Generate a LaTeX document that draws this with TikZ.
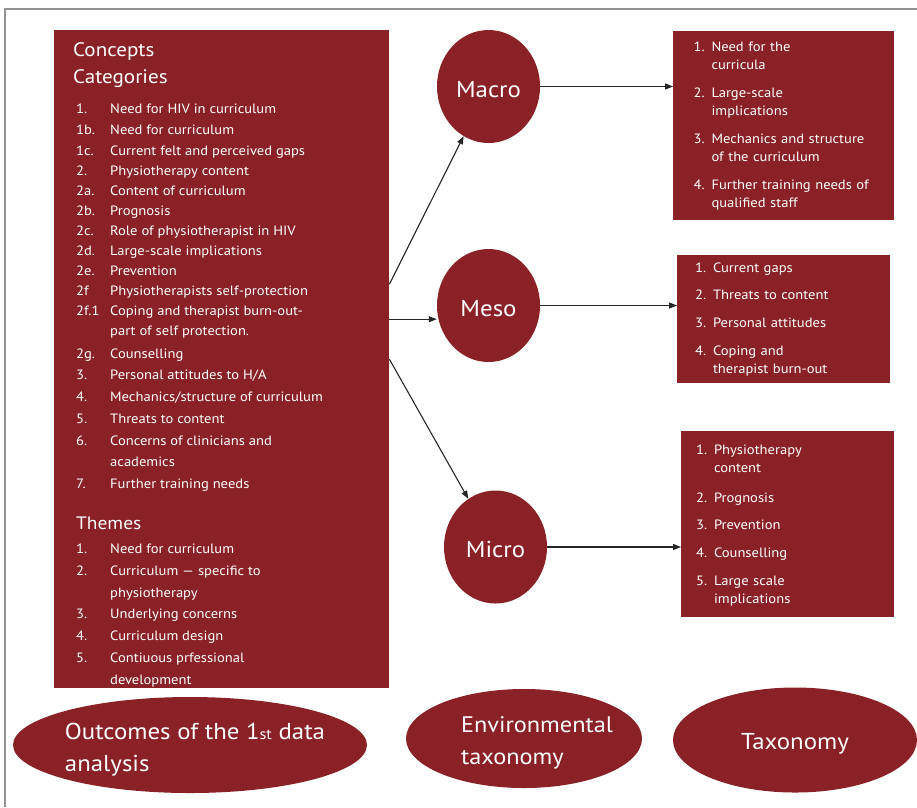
\documentclass[tikz,border=0pt]{standalone}
\usepackage{fontspec}
\setmainfont{PT Sans}[FakeStretch=1.08]
\usepackage{tikz}
\usetikzlibrary{arrows.meta, shapes.geometric, positioning}
\definecolor{wine}{RGB}{137,33,38}

\begin{document}
\begin{tikzpicture}[
    x=1pt, y=-1pt,
    font=\fontsize{13.5}{20}\selectfont,
    panel/.style={fill=wine, text=white, anchor=north west, inner sep=0pt},
    blob/.style={ellipse, fill=wine, text=white, inner sep=0pt, align=left},
    lvl/.style={blob, minimum width=103pt, minimum height=113pt, font=\fontsize{23}{23}\selectfont},
    item/.style={text=white, anchor=base west, inner sep=0pt},
    head/.style={item, font=\fontsize{19.5}{19.5}\selectfont},
    ar/.style={-{Triangle[length=8pt, width=6pt]}, line width=1.1pt, black!85}
]
\useasboundingbox (0,0) rectangle (917,807);
% frame
\draw[gray!85, line width=1.5pt] (917,9) -- (5,9) -- (5,807);
% Left panel (outcomes of the data analysis)
\node[panel, minimum width=335pt, minimum height=658pt] (cats) at (54,30) {};
\node[head] (conc) at (73,56) {Concepts};
\node[head] (catg) at (73,83) {Categories};
\foreach \y/\n/\t [count=\i] in {113/1./Need for HIV in curriculum, 134/1b./Need for curriculum,
    155/1c./Current felt and perceived gaps, 175/2./Physiotherapy content,
    195/2a./Content of curriculum, 215/2b./Prognosis, 235/2c./Role of physiotherapist in HIV,
    255/2d./Large-scale implications, 275/2e./Prevention, 295/2f/Physiotherapists self-protection,
    315/2f.1/Coping and therapist burn-out-, 335//part of self protection.,
    358/2g./Counselling, 379/3./{Personal attitudes to H/A},
    401/4./{Mechanics/structure of curriculum}, 423/5./Threats to content,
    445/6./Concerns of clinicians and, 466//academics, 488/7./Further training needs}{
   \node[item] (cn\i) at (76,\y) {\n};
   \node[item] (ct\i) at (110,\y) {\t};
}
\node[head, font=\fontsize{18}{18}\selectfont] (them) at (76,529) {Themes};
\foreach \y/\n/\t [count=\i] in {553/1./Need for curriculum, 575/2./Curriculum — specific to,
    597//physiotherapy, 618/3./Underlying concerns, 640/4./Curriculum design,
    662/5./Contiuous prfessional, 684//development}{
   \node[item] (tn\i) at (76,\y) {\n};
   \node[item] (tt\i) at (110,\y) {\t};
}
% Levels
\node[lvl] (mac) at (488.5,86.5) {\rule{0pt}{22pt}Macro};
\node[lvl] (meso) at (488.5,305.5) {\rule{0pt}{22pt}Meso};
\node[lvl] (mic) at (495.5,547) {\rule{0pt}{22pt}Micro};
\draw[ar] ([yshift=75pt]cats.east) -- (mac);
\draw[ar] ([yshift=40pt]cats.east) -- ([yshift=40pt]cats.east -| meso.west);
\draw[ar] (cats.east) -- (mic);
% Right panels (taxonomy)
\node[panel, minimum height=189pt, text width=180pt, inner xsep=20.5pt, align=left,
      font=\fontsize{13.5}{18}\selectfont] (macl) at (673,31)
   {1. Need for the\\\phantom{1. }curricula\\[10pt]
    2. Large-scale\\\phantom{2. }implications\\[10pt]
    3. Mechanics and structure\\\phantom{3. }of the curriculum\\[10pt]
    4. Further training needs of\\\phantom{4. }qualified staff};
\node[panel, minimum height=128pt, text width=177pt, inner xsep=18pt, align=left,
      font=\fontsize{13.5}{18}\selectfont] (mesol) at (677,255)
   {1. Current gaps\\[9pt]
    2. Threats to content\\[10pt]
    3. Personal attitudes\\[10pt]
    4. Coping and\\\phantom{4. }therapist burn-out};
\node[panel, minimum height=186pt, text width=183pt, inner xsep=15pt, align=left,
      font=\fontsize{13.5}{18}\selectfont] (micl) at (681,431)
   {\rule{0pt}{13pt}1. Physiotherapy\\\phantom{1. }content\\[12pt]
    2. Prognosis\\[9pt]
    3. Prevention\\[10pt]
    4. Counselling\\[10pt]
    5. Large scale\\\phantom{5. }implications};
\foreach \a/\b in {mac/macl, meso/mesol, mic/micl}
   \draw[ar] (\a.east) -- (\a.east -| \b.west);
% Bottom row
\node[blob, minimum width=354pt, minimum height=96pt, inner xsep=-10pt,
      font=\fontsize{23}{32}\selectfont] (outc) at (190,745)
   {\rule{0pt}{25pt}\hspace*{10pt}Outcomes of the 1{\fontsize{15}{15}\selectfont st} data\\\hspace*{10pt}analysis};
\node[blob, minimum width=236pt, minimum height=99pt, inner xsep=-12pt,
      font=\fontsize{22.5}{32}\selectfont] (envt) at (524,738.5)
   {\rule{0pt}{24pt}\hspace*{26pt}Environmental\\\hspace*{26pt}taxonomy};
\node[blob, minimum width=244pt, minimum height=105pt, font=\fontsize{23}{23}\selectfont] (taxo) at (795,740)
   {\rule{0pt}{24pt}Taxonomy};
\end{tikzpicture}
\end{document}
